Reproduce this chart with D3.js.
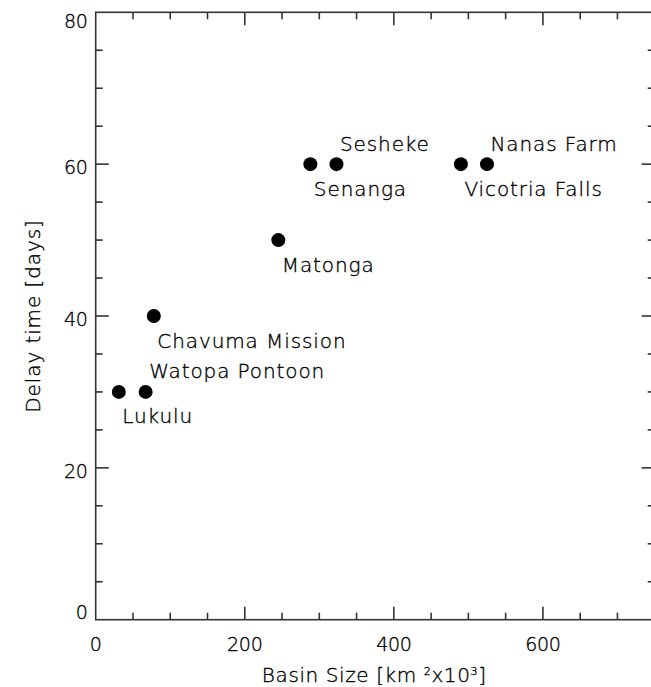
<!DOCTYPE html>
<html>
<head>
<meta charset="utf-8">
<script src="https://cdn.jsdelivr.net/npm/d3@7"></script>
<style>
  html, body { margin: 0; padding: 0; background: #fff; }
  svg { display: block; }
  text { font-family: "DejaVu Sans", sans-serif; font-weight: 200; fill: #000; stroke: #000; stroke-width: 0.35px; }
</style>
</head>
<body>
<svg id="chart" width="651" height="687"></svg>
<script>
// Gauging stations: basin size (10^3 km^2) against delay time (days)
const stations = ["Lukulu", "Watopa Pontoon", "Chavuma Mission", "Matonga",
                  "Senanga", "Sesheke", "Vicotria Falls", "Nanas Farm"];
const basinSize = [31, 67, 78, 245, 288, 323, 490, 525];
const delayDays = [30, 30, 40, 50, 60, 60, 60, 60];
const labelSide = ["below", "above", "below", "below", "below", "above", "below", "above"];

const xTicks = [0, 200, 400, 600];
const yTicks = [0, 20, 40, 60, 80];
const xDomain = [0, 750];
const yDomain = [0, 80];

const svg = d3.select("#chart");
const margin = { left: 95.7, top: 12.3 };
const plotW = 559, plotH = 607.4;

const x = d3.scaleLinear().domain(xDomain).range([margin.left, margin.left + plotW]);
const y = d3.scaleLinear().domain(yDomain).range([margin.top + plotH, margin.top]);

const axisColor = "#333";
const g = svg.append("g");

// Frame
g.append("rect")
  .attr("x", x(xDomain[0])).attr("y", y(yDomain[1]))
  .attr("width", x(xDomain[1]) - x(xDomain[0]))
  .attr("height", y(yDomain[0]) - y(yDomain[1]))
  .attr("fill", "none").attr("stroke", axisColor).attr("stroke-width", 1.6);

// Inward ticks on all four sides: majors from the tick arrays, minors every quarter step
const xMinor = d3.range(xDomain[0], xDomain[1] + 1, 50).filter(v => !xTicks.includes(v));
const yMinor = d3.range(yDomain[0], yDomain[1] + 1, 5).filter(v => !yTicks.includes(v));
const major = 13, minor = 7;

function xTickLines(values, len) {
  [y(yDomain[0]), y(yDomain[1])].forEach((yy, i) => {
    const dir = i === 0 ? -1 : 1;
    g.selectAll(null).data(values).enter().append("line")
      .attr("x1", d => x(d)).attr("x2", d => x(d))
      .attr("y1", yy).attr("y2", yy + dir * len)
      .attr("stroke", axisColor).attr("stroke-width", 1.6);
  });
}
function yTickLines(values, len) {
  [x(xDomain[0]), x(xDomain[1])].forEach((xx, i) => {
    const dir = i === 0 ? 1 : -1;
    g.selectAll(null).data(values).enter().append("line")
      .attr("y1", d => y(d)).attr("y2", d => y(d))
      .attr("x1", xx).attr("x2", xx + dir * len)
      .attr("stroke", axisColor).attr("stroke-width", 1.6);
  });
}
xTickLines(xTicks.filter(v => v > xDomain[0]), major);
xTickLines(xMinor, minor);
yTickLines(yTicks.filter(v => v > yDomain[0] && v < yDomain[1]), major);
yTickLines(yMinor, minor);

// Tick labels
g.selectAll(null).data(xTicks).enter().append("text")
  .attr("x", d => x(d)).attr("y", 644)
  .attr("text-anchor", "middle").attr("dominant-baseline", "central")
  .style("font-size", "19px").style("letter-spacing", "-0.3px")
  .text(d => d);

g.selectAll(null).data(yTicks).enter().append("text")
  .attr("x", 87.5)
  .attr("y", d => y(d) + (d === yDomain[1] ? 9 : d === yDomain[0] ? -8 : 3))
  .attr("text-anchor", "end").attr("dominant-baseline", "central")
  .style("font-size", "19px").style("letter-spacing", "-0.3px")
  .text(d => d);

// Axis titles
const xt = g.append("text")
  .attr("x", (x(xDomain[0]) + x(xDomain[1])) / 2 - 1).attr("y", 675)
  .attr("text-anchor", "middle").attr("dominant-baseline", "central")
  .style("font-size", "20px").style("letter-spacing", "0.6px");
xt.append("tspan").text("Basin Size [km ");
xt.append("tspan").attr("baseline-shift", "35%").style("font-size", "11px").text("2");
xt.append("tspan").text("x10");
xt.append("tspan").attr("baseline-shift", "35%").style("font-size", "11px").text("3");
xt.append("tspan").text("]");

g.append("text")
  .attr("transform", `translate(33,${(y(yDomain[0]) + y(yDomain[1])) / 2}) rotate(-90)`)
  .attr("text-anchor", "middle").attr("dominant-baseline", "central")
  .style("font-size", "20px").style("letter-spacing", "0.9px")
  .text("Delay time [days]");

// Station markers
const pts = stations.map((name, i) => ({ name, bx: basinSize[i], dy: delayDays[i], side: labelSide[i] }));

g.selectAll("circle.station").data(pts).enter().append("circle")
  .attr("class", "station")
  .attr("cx", d => x(d.bx)).attr("cy", d => y(d.dy))
  .attr("r", 7).attr("fill", "#000");

g.selectAll("text.station").data(pts).enter().append("text")
  .attr("class", "station")
  .attr("x", d => x(d.bx) + 3.5)
  .attr("y", d => y(d.dy) + (d.side === "above" ? -20.5 : 24.5))
  .attr("dominant-baseline", "central")
  .style("font-size", "20px").style("letter-spacing", "0.9px")
  .text(d => d.name);
</script>
</body>
</html>
